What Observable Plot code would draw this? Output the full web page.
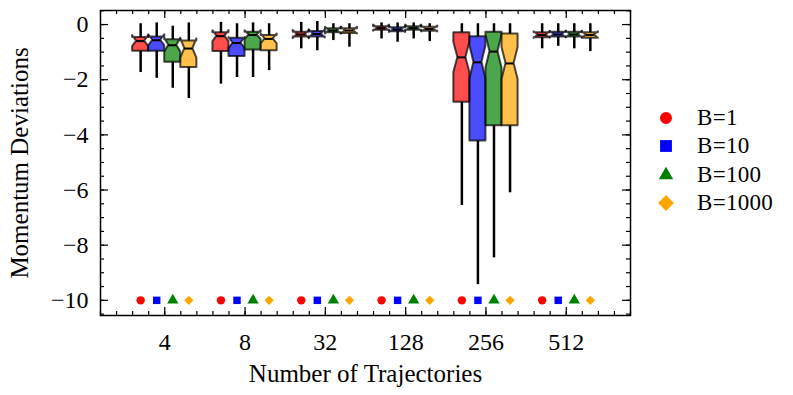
<!DOCTYPE html>
<html><head><meta charset="utf-8">
<script src="https://cdn.jsdelivr.net/npm/d3@7"></script>
<script src="https://cdn.jsdelivr.net/npm/@observablehq/plot@0.6"></script>
<style>
body{margin:0;background:#fff;}
#wrap{position:relative;width:793px;height:395px;font-family:"Liberation Serif",serif;color:#000;}
#legend{position:absolute;left:648px;top:104px;}
.row{display:flex;align-items:center;height:28.3px;font-size:23px;letter-spacing:0.3px;}
.row svg{width:36px;height:28px;margin-right:13px;}
svg text{font-family:"Liberation Serif",serif;}
</style></head><body><div id="wrap"></div>
<script>
const categories = ["4", "8", "32", "128", "256", "512"];
const series = ["B=1", "B=10", "B=100", "B=1000"];
const colors = ["red", "blue", "green", "orange"];
const symbols = ["circle", "square", "triangle", "diamond2"];
const offsets = [-0.3, -0.1, 0.1, 0.3];
const markerLevel = -10;

// rows: series (B=1, B=10, B=100, B=1000); columns: categories
const whiskerHigh = [
  [0.03, 0.08, 0.08, 0.06, 0.03, 0.03],
  [0.06, 0.03, 0.11, 0.06, 0.03, 0.03],
  [-0.06, 0.06, 0.03, 0.06, 0.03, 0.03],
  [0.06, 0.03, 0.03, 0.03, 0.03, 0.03]
];
const q3 = [
  [-0.47, -0.30, -0.28, -0.08, -0.30, -0.30],
  [-0.45, -0.50, -0.25, -0.12, -0.44, -0.28],
  [-0.55, -0.28, -0.15, -0.08, -0.28, -0.28],
  [-0.60, -0.40, -0.15, -0.10, -0.34, -0.30]
];
const medians = [
  [-0.60, -0.42, -0.36, -0.13, -1.19, -0.38],
  [-0.57, -0.67, -0.34, -0.18, -1.37, -0.36],
  [-0.75, -0.38, -0.22, -0.13, -0.98, -0.36],
  [-0.87, -0.52, -0.22, -0.16, -1.41, -0.38]
];
const q1 = [
  [-0.97, -0.98, -0.45, -0.21, -2.82, -0.48],
  [-0.97, -1.16, -0.45, -0.26, -4.22, -0.45],
  [-1.37, -0.92, -0.30, -0.21, -3.67, -0.45],
  [-1.56, -0.95, -0.32, -0.24, -3.67, -0.50]
];
const whiskerLow = [
  [-1.74, -2.16, -0.88, -0.52, -6.56, -0.88],
  [-1.95, -1.92, -0.95, -0.64, -9.43, -0.79],
  [-2.31, -1.92, -0.58, -0.52, -8.46, -0.88],
  [-2.68, -1.67, -0.82, -0.62, -6.10, -0.98]
];
const notchHalf = [
  [0.20, 0.20, 0.15, 0.11, 0.55, 0.12],
  [0.20, 0.20, 0.15, 0.11, 0.60, 0.12],
  [0.25, 0.16, 0.12, 0.11, 0.60, 0.12],
  [0.35, 0.18, 0.12, 0.11, 0.58, 0.12]
];
const yMajor = [0, -2, -4, -6, -8, -10];
const yMinor = d3.range(-10.5, 0.51, 0.5);
const xMajor = [0, 1, 2, 3, 4, 5];
const xMinor = d3.range(-0.8, 5.81, 0.2).map(v => Math.round(v * 10) / 10);

const boxW = 0.2;
const boxes = [];
series.forEach((s, si) => categories.forEach((c, ci) => {
  boxes.push({
    id: si + "-" + ci, series: s, x: ci + offsets[si],
    whi: whiskerHigh[si][ci], q3: q3[si][ci], med: medians[si][ci],
    q1: q1[si][ci], wlo: whiskerLow[si][ci], n: notchHalf[si][ci]
  });
}));
const outline = [];
for (const b of boxes) {
  const pts = [[b.q1, 1], [b.med - b.n, 1], [b.med, 0.5], [b.med + b.n, 1], [b.q3, 1]];
  for (const [y, f] of pts) outline.push({id: b.id, series: b.series, y, x1: b.x - boxW / 2 * f, x2: b.x + boxW / 2 * f});
}
const markers = [];
series.forEach((s, si) => categories.forEach((c, ci) => markers.push({series: s, x: ci + offsets[si], y: markerLevel})));

const W = 793, H = 395, mL = 100, mR = 163, mT = 10, mB = 80;
const iW = W - mL - mR, iH = H - mT - mB;
const tk = {stroke: "black", strokeWidth: 1.2};

const chart = Plot.plot({
  width: W, height: H,
  marginLeft: mL, marginRight: mR, marginTop: mT, marginBottom: mB,
  style: {fontFamily: "Liberation Serif", fontSize: "24px", color: "black", background: "white"},
  x: {type: "linear", domain: [-0.8, 5.8]},
  y: {domain: [-10.55, 0.51]},
  color: {domain: series, range: colors},
  symbol: {domain: series, range: symbols},
  marks: [
    Plot.ruleX(boxes, {x: "x", y1: "q3", y2: "whi", stroke: "black", strokeWidth: 2.5}),
    Plot.ruleX(boxes, {x: "x", y1: "q1", y2: "wlo", stroke: "black", strokeWidth: 2.5}),
    Plot.areaX(outline, {y: "y", x1: "x1", x2: "x2", z: "id", fill: "series", fillOpacity: 0.7,
      stroke: "black", strokeOpacity: 0.7, strokeWidth: 2, curve: "linear"}),
    Plot.ruleY(boxes, {y: "med", x1: d => d.x - boxW / 4, x2: d => d.x + boxW / 4, stroke: "black", strokeWidth: 2}),
    Plot.dot(markers, {x: "x", y: "y", symbol: "series", fill: "series", r: 4.2, stroke: null}),
    Plot.tickY(yMajor, {y: d => d, insetRight: iW - 8, ...tk}),
    Plot.tickY(yMinor, {y: d => d, insetRight: iW - 4, ...tk}),
    Plot.tickY(yMajor, {y: d => d, insetLeft: iW - 8, ...tk}),
    Plot.tickY(yMinor, {y: d => d, insetLeft: iW - 4, ...tk}),
    Plot.tickX(xMajor, {x: d => d, insetTop: iH - 8, ...tk}),
    Plot.tickX(xMinor, {x: d => d, insetTop: iH - 4, ...tk}),
    Plot.tickX(xMajor, {x: d => d, insetBottom: iH - 8, ...tk}),
    Plot.tickX(xMinor, {x: d => d, insetBottom: iH - 4, ...tk}),
    Plot.axisY({ticks: yMajor, tickSize: 0, tickPadding: 12, fontSize: 24}),
    Plot.axisY({ticks: [], tickSize: 0, fontSize: 25, label: "Momentum Deviations", labelAnchor: "center",
      labelArrow: "none", labelOffset: 90, letterSpacing: 1}),
    Plot.axisX({ticks: xMajor, tickSize: 0, tickPadding: 17, fontSize: 24, tickFormat: i => categories[i]}),
    Plot.axisX({ticks: [], tickSize: 0, fontSize: 25, label: "Number of Trajectories", labelAnchor: "center",
      labelArrow: "none", labelOffset: 66, letterSpacing: 1}),
    Plot.frame({stroke: "black", strokeWidth: 1.5})
  ]
});

const wrap = document.getElementById("wrap");
wrap.appendChild(chart);
const legend = document.createElement("div");
legend.id = "legend";
const symMap = {circle: [d3.symbolCircle, 113], square: [d3.symbolSquare, 140], triangle: [d3.symbolTriangle, 90], diamond2: [d3.symbolDiamond2, 160]};
series.forEach((s, i) => {
  const row = document.createElement("div");
  row.className = "row";
  const [type, size] = symMap[symbols[i]];
  row.innerHTML = `<svg viewBox="-18 -14 36 28"><path d="${d3.symbol(type, size)()}" fill="${colors[i]}"></path></svg><span>${s}</span>`;
  legend.appendChild(row);
});
wrap.appendChild(legend);
</script></body></html>
